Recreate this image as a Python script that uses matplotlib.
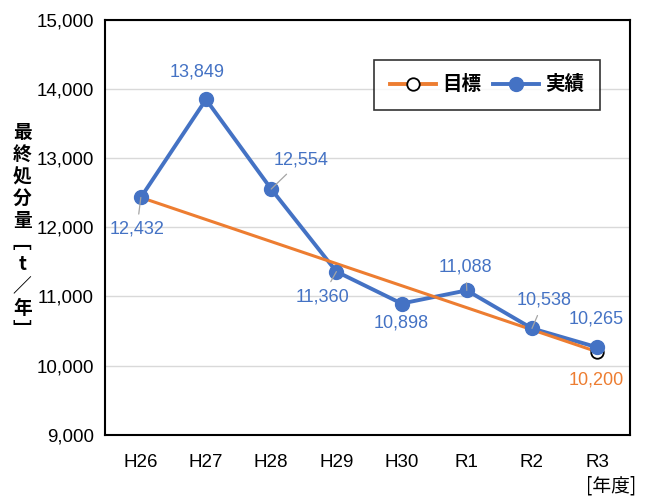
import matplotlib.pyplot as plt

plt.rcParams['font.family'] = ['Liberation Sans', 'Noto Sans CJK JP', 'DejaVu Sans']

# Data
years = ["H26", "H27", "H28", "H29", "H30", "R1", "R2", "R3"]
actual = [12432, 13849, 12554, 11360, 10898, 11088, 10538, 10265]
target_start = 12432
target_end = 10200

# label offsets in pixels (dx, dy) and whether a leader line is drawn
label_offsets = [(-4, -32), (-9, 27), (30, 29), (-14, -25), (0, -19), (-1, 23), (12, 28), (-1, 28)]
leaders = [True, False, True, True, False, True, True, False]

blue = '#4472C4'
orange = '#ED7D31'

fig = plt.figure(figsize=(6.56, 4.98), dpi=100)
ax = fig.add_axes([0.160, 0.127, 0.800, 0.833])

x = list(range(len(years)))

# actual values
ax.plot(x, actual, color=blue, lw=2.8, zorder=3)
ax.plot(x, actual, color=blue, lw=0, marker='o', markersize=10, zorder=6)

# target line from base year to final year
ax.plot([x[0], x[-1]], [target_start, target_end], color=orange, lw=2.2, zorder=4)
ax.plot([x[-1]], [target_end], color=orange, lw=0, marker='o', markersize=9,
        markerfacecolor='white', markeredgecolor='black', markeredgewidth=1.3, zorder=5)

# legend handles
h1, = ax.plot([], [], color=orange, lw=2.8, marker='o', markersize=9,
              markerfacecolor='white', markeredgecolor='black', markeredgewidth=1.3)
h2, = ax.plot([], [], color=blue, lw=2.8, marker='o', markersize=10)

# data labels
for xi, v, (dx, dy), lead in zip(x, actual, label_offsets, leaders):
    if lead:
        ax.annotate(f"{v:,}", xy=(xi, v), xytext=(dx, dy), textcoords='offset pixels',
                    ha='center', va='center', fontsize=13, color=blue, zorder=7,
                    arrowprops=dict(arrowstyle='-', color='#A5A5A5', lw=0.9,
                                    shrinkA=3, shrinkB=0))
    else:
        ax.annotate(f"{v:,}", xy=(xi, v), xytext=(dx, dy), textcoords='offset pixels',
                    ha='center', va='center', fontsize=13, color=blue, zorder=7)

ax.annotate(f"{target_end:,}", xy=(x[-1], target_end), xytext=(-1, -28),
            textcoords='offset pixels', ha='center', va='center',
            fontsize=13, color=orange)

ax.set_xlim(-0.55, 7.5)
ax.set_ylim(9000, 15000)
ax.set_yticks(range(9000, 15001, 1000))
ax.set_yticklabels([f"{v:,}" for v in range(9000, 15001, 1000)])
ax.set_xticks(x)
ax.set_xticklabels(years)
ax.tick_params(length=0, labelsize=13.5, pad=8)
ax.tick_params(axis='x', pad=14)
ax.grid(axis='y', color='#D9D9D9', lw=1)
ax.set_axisbelow(True)
for s in ax.spines.values():
    s.set_color('black')
    s.set_linewidth(1.5)

# vertical y label
ylab = "\n".join(["最", "終", "処", "分", "量", "﹇", "t", "／", "年", "﹈"])
fig.text(0.034, 0.535, ylab, ha='center', va='center', fontsize=13.5,
         fontweight='bold', linespacing=1.2,
         family=['Noto Sans CJK JP', 'DejaVu Sans'])

fig.text(0.932, 0.025, "[年度]", ha='center', va='center', fontsize=13.5,
         family=['Noto Sans CJK JP', 'DejaVu Sans'])

leg = ax.legend([h1, h2], ["目標", "実績"], ncol=2, loc='upper right',
                bbox_to_anchor=(0.943, 0.904), borderaxespad=0, fontsize=14,
                frameon=True, fancybox=False, edgecolor='black', handlelength=2.4,
                columnspacing=0.6, handletextpad=0.3, borderpad=0.8)
leg.get_frame().set_linewidth(1.2)
for t in leg.get_texts():
    t.set_fontweight('bold')
    t.set_family(['Noto Sans CJK JP', 'DejaVu Sans'])

fig.savefig("out.png", dpi=100)
